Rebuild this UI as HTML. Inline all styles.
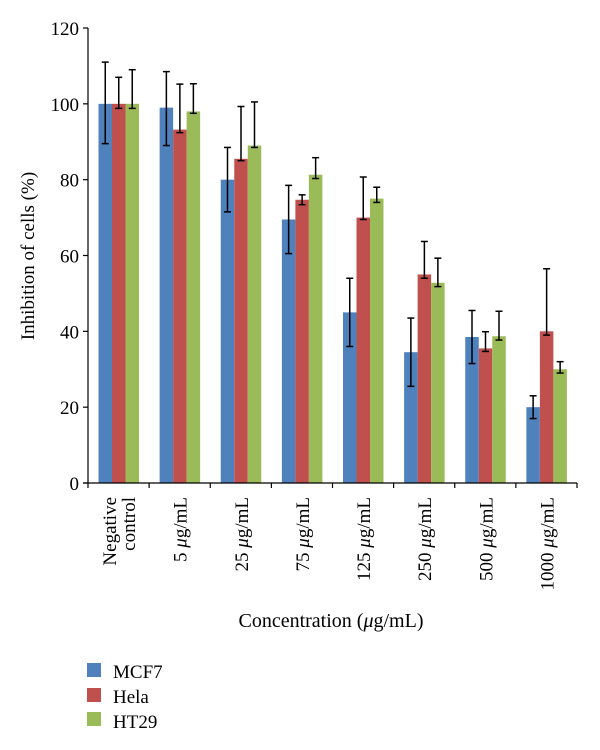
<!DOCTYPE html>
<html><head><meta charset="utf-8"><style>
html,body{margin:0;padding:0;background:#fff;}
svg{display:block;font-family:"Liberation Serif",serif;}
</style></head><body>
<svg id="chart" width="600" height="750">
<g id="bars"></g>
<g id="errs"></g>
<g id="axes"></g>
<text x="34" y="256" transform="rotate(-90 34 256)" text-anchor="middle" font-size="19">Inhibition of cells (%)</text>
<text x="331" y="627" text-anchor="middle" font-size="20">Concentration (<tspan font-style="italic">μ</tspan>g/mL)</text>
<g>
<g><rect x="87" y="663" width="14" height="14" fill="#4f81bd"/><text x="113" y="678" font-size="19">MCF7</text></g>
<g><rect x="87" y="688" width="14" height="14" fill="#c0504d"/><text x="113" y="703" font-size="19">Hela</text></g>
<g><rect x="87" y="712" width="14" height="14" fill="#9bbb59"/><text x="113" y="728" font-size="19">HT29</text></g>
</g>
</svg>
<script>
const categories = ["Negative control","5 μg/mL","25 μg/mL","75 μg/mL","125 μg/mL","250 μg/mL","500 μg/mL","1000 μg/mL"];
const seriesNames = ["MCF7","Hela","HT29"];
const mcf7 = [100, 99, 80, 69.5, 45, 34.5, 38.5, 20];
const hela = [100, 93.2, 85.5, 74.7, 70, 55, 35.5, 40];
const ht29 = [100, 98, 89, 81.3, 75, 52.8, 38.7, 30];
const mcf7ErrUp = [11, 9.5, 8.5, 9, 9, 9, 7, 3];
const mcf7ErrDown = [10.5, 10, 8.5, 9, 9, 9, 7, 3];
const helaErrUp = [7, 12, 13.8, 1.3, 10.7, 8.7, 4.4, 16.5];
const helaErrDown = [1.2, 0.8, 0.5, 1.3, 0.5, 1, 0.8, 1];
const ht29ErrUp = [9, 7.3, 11.5, 4.5, 3, 6.5, 6.6, 2];
const ht29ErrDown = [1.2, 0.5, 0.5, 1, 1, 1, 1, 1];
const yTicks = [0, 20, 40, 60, 80, 100, 120];

const NS = "http://www.w3.org/2000/svg";
const x0 = 88, x1 = 577, y0 = 483, yTop = 28, yMax = 120;
const gw = (x1 - x0) / categories.length;
const bw = 13.5, off = 10.5;
const colors = ["#4f81bd", "#c0504d", "#9bbb59"];
function yScale(v){ return y0 - v / yMax * (y0 - yTop); }
function xBand(i){ return x0 + i * gw; }
function mk(tag, attrs, parent){ const e = document.createElementNS(NS, tag); for (const k in attrs) e.setAttribute(k, attrs[k]); parent.appendChild(e); return e; }

const bars = document.getElementById('bars'), errs = document.getElementById('errs'), axes = document.getElementById('axes');
const series = [mcf7, hela, ht29];
const ups = [mcf7ErrUp, helaErrUp, ht29ErrUp];
const downs = [mcf7ErrDown, helaErrDown, ht29ErrDown];
series.forEach((vals, s) => {
  vals.forEach((v, i) => {
    const bx = xBand(i) + off + s * bw;
    const r = mk('rect', {x: bx, y: yScale(v), width: bw, height: y0 - yScale(v), fill: colors[s]}, bars);
    
    
    const cx = bx + bw / 2, yt = yScale(v + ups[s][i]), yb = yScale(v - downs[s][i]);
    const g = mk('g', {stroke: '#000', 'stroke-width': 1.5}, errs);
    
    
    mk('line', {x1: cx, x2: cx, y1: yt, y2: yb}, g);
    mk('line', {x1: cx - 3.5, x2: cx + 3.5, y1: yt, y2: yt}, g);
    mk('line', {x1: cx - 3.5, x2: cx + 3.5, y1: yb, y2: yb}, g);
  });
});
const ya = mk('line', {x1: x0, x2: x0, y1: yTop, y2: y0, stroke: '#000', 'stroke-width': 1.2}, axes);


const xa = mk('line', {x1: x0 - 5, x2: x1, y1: y0, y2: y0, stroke: '#000', 'stroke-width': 1.2}, axes);


yTicks.forEach(t => {
  const y = yScale(t);
  mk('line', {x1: x0 - 5, x2: x0, y1: y, y2: y, stroke: '#000', 'stroke-width': 1.2}, axes);
  const tx = mk('text', {x: x0 - 9, y: y + 7, 'text-anchor': 'end', 'font-size': 19}, axes);
  tx.textContent = t;
  
  
});
for (let i = 0; i <= categories.length; i++) {
  const x = xBand(i);
  mk('line', {x1: x, x2: x, y1: y0, y2: y0 + 5, stroke: '#000', 'stroke-width': 1.2}, axes);
}
categories.forEach((c, i) => {
  const cx = xBand(i) + gw / 2;
  const lines = c === "Negative control" ? ["Negative", "control"] : [c];
  const tx = mk('text', {'font-size': 19, 'text-anchor': 'end'}, axes);
  
  
  lines.forEach((ln, k) => {
    const bx = cx + 7 - (lines.length - 1) * 9.5 + k * 19;
    const ts = mk('tspan', {}, tx);
    if (k === 0) { tx.setAttribute('transform', 'translate(' + bx + ',497) rotate(-90)'); ts.setAttribute('x', 0); ts.setAttribute('y', 0); }
    else { ts.setAttribute('x', 0); ts.setAttribute('dy', 19); }
    const parts = ln.split('μ');
    if (parts.length > 1) {
      ts.appendChild(document.createTextNode(parts[0]));
      const it = mk('tspan', {'font-style': 'italic'}, ts); it.textContent = 'μ';
      ts.appendChild(document.createTextNode(parts[1]));
    } else ts.textContent = ln;
  });
});
</script>
</body></html>
